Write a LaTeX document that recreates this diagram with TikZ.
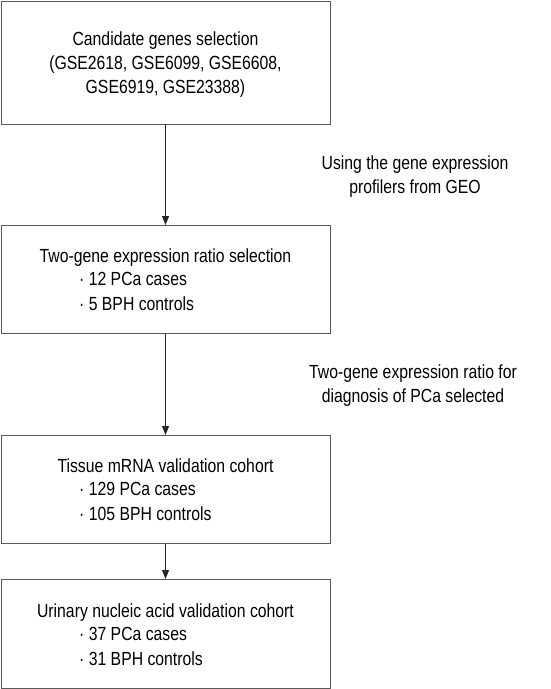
\documentclass[tikz,border=0pt]{standalone}
\usepackage{fontspec}
\setmainfont[FakeStretch=0.83]{Liberation Sans}
\usetikzlibrary{arrows.meta}
\tikzset{
  box/.style={draw=black!65, line width=0.9pt, minimum width=329pt, inner sep=0pt, anchor=north},
  txt/.style={font=\fontsize{19}{24}\selectfont, text=black, inner sep=0pt, anchor=base, align=center},
  item/.style={txt, anchor=base west, align=left},
  flow/.style={-{Triangle[length=9pt,width=7pt]}, line width=0.9pt, draw=black!85}
}
\begin{document}
\begin{tikzpicture}[x=1pt,y=-1pt]
  \useasboundingbox (0,0) rectangle (550,689);

  \coordinate (C1) at (165.5,0.5);
  \coordinate (C2) at (165.5,225);
  \coordinate (C3) at (165.5,435);
  \coordinate (C4) at (165.5,579);

  \node[box, minimum height=123pt] (genes) at (C1) {};
  \node[box, minimum height=108pt] (ratio) at (C2) {};
  \node[box, minimum height=108pt] (tissue) at (C3) {};
  \node[box, minimum height=109pt] (urine) at (C4) {};

  % multi-line texts sit on the baseline of their last line
  \node[txt] (genestitle) at (165.5,93) {Candidate genes selection\\(GSE2618, GSE6099, GSE6608,\\GSE6919, GSE23388)};

  \node[txt] (ratiotitle) at (165.5,262) {Two-gene expression ratio selection};
  \node[item] (ratioa) at (79,285) {· 12 PCa cases};
  \node[item] (ratiob) at (79,310) {· 5 BPH controls};

  \node[txt] (tissuetitle) at (165.5,472) {Tissue mRNA validation cohort};
  \node[item] (tissuea) at (79,495) {· 129 PCa cases};
  \node[item] (tissueb) at (79,520) {· 105 BPH controls};

  \node[txt] (urinetitle) at (165.5,617) {Urinary nucleic acid validation cohort};
  \node[item] (urinea) at (79,640) {· 37 PCa cases};
  \node[item] (urineb) at (79,665) {· 31 BPH controls};

  \node[txt] (geo) at (415,193) {Using the gene expression\\profilers from GEO};
  \node[txt] (diag) at (413,402) {Two-gene expression ratio for\\diagnosis of PCa selected};

  \draw[flow] (genes.south) -- (ratio.north);
  \draw[flow] (ratio.south) -- (tissue.north);
  \draw[flow] (tissue.south) -- (urine.north);
\end{tikzpicture}
\end{document}
